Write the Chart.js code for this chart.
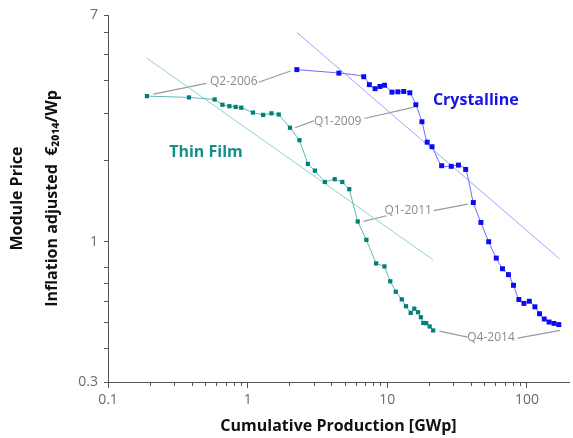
<!DOCTYPE html>
<html>
<head>
<meta charset="utf-8">
<script src="https://cdn.jsdelivr.net/npm/chart.js@4.4.1/dist/chart.umd.min.js"></script>
<style>
  html, body { margin: 0; padding: 0; background: #fff; }
  canvas { display: block; }
</style>
</head>
<body>
<canvas id="learningChart" width="573" height="438"></canvas>
<script>
// Thin film modules: cumulative production [GWp] vs price
const thinFilmX = [0.19, 0.38, 0.58, 0.66, 0.74, 0.82, 0.90, 1.09, 1.29, 1.48, 1.67, 2.01, 2.35, 2.70, 3.03, 3.57, 4.20, 4.76, 5.34, 6.14, 7.08, 8.31, 9.54, 10.5, 11.5, 12.7, 13.6, 14.7, 15.6, 16.6, 17.4, 18.1, 19.0, 20.1, 21.3];
const thinFilmY = [3.49, 3.45, 3.39, 3.24, 3.20, 3.18, 3.16, 3.03, 2.97, 3.01, 2.98, 2.66, 2.39, 1.95, 1.84, 1.67, 1.71, 1.67, 1.57, 1.19, 1.016, 0.830, 0.809, 0.712, 0.651, 0.610, 0.575, 0.543, 0.563, 0.546, 0.523, 0.498, 0.497, 0.483, 0.467];

// Crystalline modules
const crystallineX = [2.25, 4.50, 6.78, 7.44, 8.17, 8.86, 9.55, 10.8, 11.9, 13.1, 14.5, 16.0, 17.7, 19.3, 20.9, 24.5, 28.7, 32.3, 36.4, 41.3, 46.8, 53.2, 60.3, 66.8, 73.7, 80.1, 87.5, 95.1, 104, 114, 123, 133, 144, 156, 169];
const crystallineY = [4.38, 4.25, 4.12, 3.85, 3.72, 3.79, 3.83, 3.61, 3.62, 3.63, 3.59, 3.24, 2.80, 2.35, 2.26, 1.92, 1.91, 1.93, 1.86, 1.40, 1.18, 1.00, 0.869, 0.793, 0.754, 0.688, 0.609, 0.589, 0.600, 0.572, 0.539, 0.515, 0.502, 0.496, 0.491];

// learning curve fits (end points)
const thinFilmTrendX = [0.19, 21.2];
const thinFilmTrendY = [4.83, 0.857];
const crystallineTrendX = [2.25, 171];
const crystallineTrendY = [6.03, 0.864];

// quarter markers
const quarterLabels = ['Q2-2006', 'Q1-2009', 'Q1-2011', 'Q4-2014'];
const quarterX = [0.795, 4.41, 14.1, 55.3];
const quarterY = [3.97, 2.80, 1.31, 0.441];
const leaderLeftX = [[0.2114, 0.506], [2.18, 2.98], [6.74, 9.87], [23.6, 37.6]];
const leaderLeftY = [[3.55, 3.89], [2.66, 2.82], [1.19, 1.25], [0.464, 0.441]];
const leaderRightX = [[1.197, 2.03], [6.85, 15.28], [21.5, 37.6], [86.0, 172.7]];
const leaderRightY = [[3.93, 4.33], [2.88, 3.17], [1.305, 1.38], [0.4375, 0.4675]];

const seriesNames = ['Thin Film', 'Crystalline'];
const seriesNameX = [0.503, 43.0];
const seriesNameY = [2.16, 3.37];

// axis ticks
const xMajorTicks = [0.1, 1, 10, 100];
const xTicks = [0.1, 0.2, 0.3, 0.4, 0.5, 0.6, 0.7, 0.8, 0.9, 1, 2, 3, 4, 5, 6, 7, 8, 9, 10, 20, 30, 40, 50, 60, 70, 80, 90, 100];
const yLabelTicks = [0.3, 1, 7];
const yTicks = [0.3, 0.4, 0.5, 0.6, 0.7, 0.8, 1, 2, 3, 4, 5, 6, 7];

const TEAL = '#00807a';
const BLUE = '#0a0af5';
const LEADER = '#9a9a9a';

function toPoints(xs, ys) {
    return xs.map((x, i) => ({ x: x, y: ys[i] }));
}

const leaderSets = [];
for (let i = 0; i < quarterLabels.length; i++) {
    [[leaderLeftX[i], leaderLeftY[i]], [leaderRightX[i], leaderRightY[i]]].forEach(seg => {
        leaderSets.push({
            data: toPoints(seg[0], seg[1]),
            showLine: true,
            borderColor: LEADER,
            borderWidth: 1.2,
            pointRadius: 0
        });
    });
}

const labelPlugin = {
    id: 'labelPlugin',
    afterDatasetsDraw(chart) {
        const { ctx, scales: { x, y } } = chart;
        ctx.save();
        ctx.textAlign = 'center';
        ctx.textBaseline = 'middle';
        ctx.font = '12px "Open Sans"';
        ctx.fillStyle = '#8a8a8a';
        quarterLabels.forEach((t, i) => {
            ctx.fillText(t, x.getPixelForValue(quarterX[i]), y.getPixelForValue(quarterY[i]));
        });
        ctx.font = 'bold 16px "Open Sans"';
        const nameColors = ['#168e89', '#1414e6'];
        seriesNames.forEach((t, i) => {
            ctx.fillStyle = nameColors[i];
            ctx.fillText(t, x.getPixelForValue(seriesNameX[i]), y.getPixelForValue(seriesNameY[i]));
        });
        ctx.restore();
    }
};

const ctx = document.getElementById('learningChart').getContext('2d');
const learningChart = new Chart(ctx, {
    type: 'scatter',
    data: {
        datasets: [
            {
                label: 'Thin Film',
                data: toPoints(thinFilmX, thinFilmY),
                showLine: true,
                borderColor: '#5fb8b3',
                borderWidth: 1,
                backgroundColor: TEAL,
                pointBackgroundColor: TEAL,
                pointBorderWidth: 0,
                pointStyle: 'rect',
                pointRadius: 3
            },
            {
                label: 'Crystalline',
                data: toPoints(crystallineX, crystallineY),
                showLine: true,
                tension: 0.25,
                borderColor: '#6a6aff',
                borderWidth: 1,
                backgroundColor: BLUE,
                pointBackgroundColor: BLUE,
                pointBorderWidth: 0,
                pointStyle: 'rect',
                pointRadius: 3.5
            },
            {
                data: toPoints(thinFilmTrendX, thinFilmTrendY),
                showLine: true,
                borderColor: '#8ad2ce',
                borderWidth: 1,
                pointRadius: 0
            },
            {
                data: toPoints(crystallineTrendX, crystallineTrendY),
                showLine: true,
                borderColor: '#a2a2ff',
                borderWidth: 1,
                pointRadius: 0
            },
            ...leaderSets
        ]
    },
    options: {
        responsive: false,
        animation: false,
        layout: { padding: { top: 15, right: 0, left: 0, bottom: 0 } },
        plugins: {
            legend: { display: false },
            tooltip: { enabled: false }
        },
        scales: {
            x: {
                type: 'logarithmic',
                min: 0.1,
                max: 200,
                afterBuildTicks: scale => { scale.ticks = xTicks.map(v => ({ value: v })); },
                afterFit: scale => { scale.height = 56; },
                border: { color: '#555', width: 1 },
                grid: {
                    drawOnChartArea: false,
                    tickLength: 6,
                    tickColor: '#555',
                    tickBorderDash: c => xMajorTicks.includes(c.tick.value) ? [] : [3, 10]
                },
                ticks: {
                    autoSkip: false,
                    maxRotation: 0,
                    padding: 4,
                    color: '#6a6a6a',
                    font: { family: 'Open Sans', size: 14 },
                    callback: value => xMajorTicks.includes(value) ? String(value) : ''
                },
                title: {
                    display: true,
                    text: 'Cumulative Production [GWp]',
                    color: '#111',
                    font: { family: 'Open Sans', size: 16, weight: 'bold' },
                    padding: { top: 0, bottom: 2 }
                }
            },
            y: {
                type: 'logarithmic',
                min: 0.3,
                max: 7,
                afterBuildTicks: scale => { scale.ticks = yTicks.map(v => ({ value: v })); },
                afterFit: scale => { scale.width = 108; },
                border: { color: '#555', width: 1 },
                grid: {
                    drawOnChartArea: false,
                    tickLength: 4,
                    tickColor: '#555'
                },
                ticks: {
                    autoSkip: false,
                    padding: 6,
                    color: '#6a6a6a',
                    font: { family: 'Open Sans', size: 14 },
                    callback: value => yLabelTicks.includes(value) ? String(value) : ''
                },
                title: {
                    display: true,
                    text: ['Module Price', 'Inflation adjusted  \u20ac\u2082\u2080\u2081\u2084/Wp'],
                    color: '#111',
                    font: { family: 'Open Sans', size: 16, weight: 'bold', lineHeight: 2.2 },
                    padding: { top: 0, bottom: 0 }
                }
            }
        }
    },
    plugins: [labelPlugin]
});
</script>
</body>
</html>
